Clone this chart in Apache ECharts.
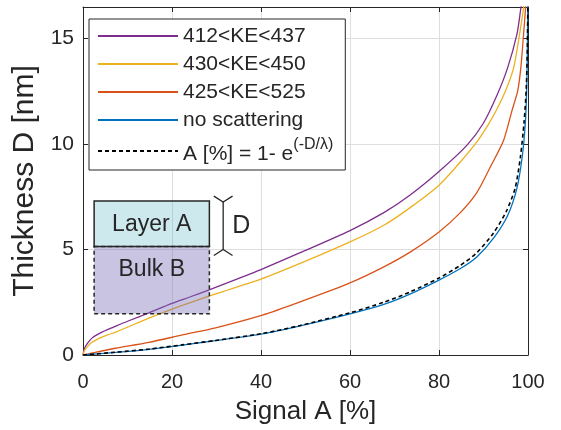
<!DOCTYPE html>
<html><head><meta charset="utf-8">
<script src="https://cdn.jsdelivr.net/npm/echarts@6/dist/echarts.min.js"></script>
<style>html,body{margin:0;padding:0;background:#fff}#c{width:561px;height:430px}</style>
</head><body><div id="c"></div>
<script>
const xTicks = [0, 20, 40, 60, 80, 100];
const yTicks = [0, 5, 10, 15];
const seriesNames = ['412<KE<437', '430<KE<450', '425<KE<525', 'no scattering', 'A [%] = 1- e(-D/λ)'];

const purpleSignal = [0, 0.3, 1, 2, 3.5, 5.5, 7.5, 10, 14.8, 20, 24, 28.5, 34, 40, 48.8, 60, 67.6, 73.6, 80, 86.3, 90, 93, 95.4, 97.5, 98.3, 98.6];
const purpleThickness = [0, 0.3, 0.55, 0.8, 1.0, 1.2, 1.38, 1.6, 2.0, 2.45, 2.75, 3.1, 3.55, 4.05, 4.85, 5.9, 6.75, 7.6, 8.7, 9.95, 11.0, 12.3, 13.6, 15.2, 16.3, 16.8];

const yellowSignal = [0, 0.3, 1, 2, 3.5, 5.5, 7.5, 10, 14.8, 22.3, 29.8, 40, 48.8, 60, 67.6, 73.6, 80, 84.8, 88.5, 91, 93, 95.1, 96.8, 98.1, 98.9, 99.2];
const yellowThickness = [0, 0.2, 0.4, 0.6, 0.78, 0.95, 1.1, 1.32, 1.75, 2.35, 2.9, 3.6, 4.34, 5.36, 6.15, 7.0, 8.05, 9.15, 10.1, 10.9, 11.65, 12.6, 13.64, 15.2, 16.3, 16.8];

const redSignal = [0, 3, 7.3, 14.8, 22.3, 29.8, 40.3, 48.8, 60, 67.6, 73.6, 80, 84.8, 88.5, 91.5, 94.5, 96.4, 97.7, 98.4, 99.0, 99.4, 99.55];
const redThickness = [0, 0.14, 0.32, 0.6, 0.95, 1.29, 1.89, 2.52, 3.42, 4.18, 4.89, 5.83, 6.75, 7.7, 8.9, 10.17, 11.59, 12.54, 13.64, 15.2, 16.3, 16.8];

const blueSignal = [0, 7.3, 14.8, 22.3, 29.8, 40.3, 48.8, 60, 67.6, 73.6, 80, 84.8, 88.5, 92.3, 95.4, 97.5, 98.7, 99.4, 99.7, 99.85, 99.95];
const blueThickness = [0, 0.12, 0.27, 0.47, 0.68, 1.0, 1.38, 1.95, 2.4, 2.9, 3.55, 4.1, 4.65, 5.55, 6.6, 7.9, 9.4, 11.0, 12.5, 14.2, 16.8];

const dashedSignal = [0, 7.3, 14.8, 22.3, 29.8, 40.3, 48.8, 60, 67.6, 73.6, 80, 84.8, 88.5, 92.3, 95.1, 97.1, 98.3, 99.1, 99.6, 99.85, 99.97];
const dashedThickness = [0, 0.13, 0.28, 0.48, 0.69, 1.02, 1.4, 2.0, 2.5, 3.0, 3.65, 4.25, 4.85, 5.8, 6.8, 7.9, 9.4, 11.0, 12.6, 14.5, 16.8];

const FONT = 'Liberation Sans, Arial, Helvetica, sans-serif';
const INK = '#262626';
const pairs = (xs, ys) => xs.map((x, i) => [x, ys[i]]);

const chart = echarts.init(document.getElementById('c'), null, {renderer: 'canvas'});

const axisCommon = {
  type: 'value',
  axisLine: {show: true, onZero: false, lineStyle: {color: INK, width: 1}},
  axisTick: {show: true, inside: true, length: 5, lineStyle: {color: INK, width: 1}},
};

function lineSeries(name, xs, ys, color, dashed) {
  return {
    name: name, type: 'line', data: pairs(xs, ys), symbol: 'none', smooth: 0.25,
    clip: true, z: dashed ? 4 : 3,
    lineStyle: {color: color, width: dashed ? 1.6 : 1.3, type: dashed ? [4, 3] : 'solid'},
    itemStyle: {color: color},
    emphasis: {disabled: true}
  };
}

chart.setOption({
  animation: false,
  backgroundColor: '#fff',
  grid: {left: 83, right: 33, top: 7, bottom: 75, containLabel: false},
  xAxis: [
    Object.assign({}, axisCommon, {
      min: 0, max: 100, interval: 20, position: 'bottom',
      name: 'Signal A [%]', nameLocation: 'middle', nameGap: 44,
      nameTextStyle: {fontFamily: FONT, fontSize: 26, color: INK},
      axisLabel: {margin: 17, fontFamily: FONT, fontSize: 20, color: INK,
        formatter: v => xTicks.includes(v) ? String(v) : ''},
      splitLine: {show: true, lineStyle: {color: '#dedede', width: 1}}
    }),
    Object.assign({}, axisCommon, {
      min: 0, max: 100, interval: 20, position: 'top',
      axisLabel: {show: false}, splitLine: {show: false}
    })
  ],
  yAxis: [
    Object.assign({}, axisCommon, {
      min: 0, max: 16.5, interval: 5, position: 'left',
      name: 'Thickness D [nm]', nameLocation: 'middle', nameGap: 35,
      nameTextStyle: {fontFamily: FONT, fontSize: 30, color: INK},
      axisLabel: {margin: 9, fontFamily: FONT, fontSize: 21, color: INK,
        formatter: v => yTicks.includes(v) ? String(v) : ''},
      splitLine: {show: true, lineStyle: {color: '#dedede', width: 1}}
    }),
    Object.assign({}, axisCommon, {
      min: 0, max: 16.5, interval: 5, position: 'right',
      axisLabel: {show: false}, splitLine: {show: false}
    })
  ],
  legend: {
    orient: 'vertical', left: 89, top: 19,
    padding: [6, 12, 5, 8], itemGap: 6, itemWidth: 80, itemHeight: 14,
    backgroundColor: '#fff', borderColor: INK, borderWidth: 1, borderRadius: 0,
    selectedMode: false,
    itemStyle: {opacity: 0},
    textStyle: {
      fontFamily: FONT, fontSize: 21, color: INK, lineHeight: 22,
      rich: {
        a: {fontFamily: FONT, fontSize: 21, color: INK, lineHeight: 28, verticalAlign: 'bottom'},
        s: {fontFamily: FONT, fontSize: 16, color: INK, verticalAlign: 'top'}
      }
    },
    formatter: function (name) {
      if (name === seriesNames[4]) return '{a|A [%] = 1- e}{s|(-D/λ)}';
      return name;
    },
    data: seriesNames
  },
  series: [
    lineSeries(seriesNames[0], purpleSignal, purpleThickness, '#7E2F8E', false),
    lineSeries(seriesNames[1], yellowSignal, yellowThickness, '#EDB120', false),
    lineSeries(seriesNames[2], redSignal, redThickness, '#D95319', false),
    lineSeries(seriesNames[3], blueSignal, blueThickness, '#0072BD', false),
    lineSeries(seriesNames[4], dashedSignal, dashedThickness, '#000000', true)
  ]
});

// Inset sketch (annotation), positioned in data coordinates
const P = (x, y) => chart.convertToPixel({gridIndex: 0}, [x, y]);
const tl = P(2.5, 7.3), mid = P(28.4, 5.15), br = P(28.4, 1.95);
const bTop = P(31.5, 7.25), bBot = P(31.5, 5.0), bArmL = P(29.4, 0), bArmR = P(33.6, 0);
const armDy = 6;
chart.setOption({
  graphic: [
    {type: 'rect', z: 10, shape: {x: tl[0], y: mid[1], width: mid[0] - tl[0], height: br[1] - mid[1]},
      style: {fill: 'rgba(117,107,180,0.4)', stroke: INK, lineWidth: 1.5, lineDash: [4, 3]}},
    {type: 'rect', z: 11, shape: {x: tl[0], y: tl[1], width: mid[0] - tl[0], height: mid[1] - tl[1]},
      style: {fill: 'rgba(88,182,198,0.3)', stroke: INK, lineWidth: 1.5}},
    {type: 'text', z: 12, x: (tl[0] + mid[0]) / 2, y: (tl[1] + mid[1]) / 2 + 1,
      style: {text: 'Layer A', font: '23px ' + FONT, fill: INK, align: 'center', verticalAlign: 'middle'}},
    {type: 'text', z: 12, x: (tl[0] + mid[0]) / 2, y: P(0, 4.05)[1],
      style: {text: 'Bulk B', font: '23px ' + FONT, fill: INK, align: 'center', verticalAlign: 'middle'}},
    {type: 'polyline', z: 12, shape: {points: [[bTop[0], bTop[1]], [bTop[0], bBot[1]]]},
      style: {stroke: INK, lineWidth: 1.3, fill: null}},
    {type: 'polyline', z: 12, shape: {points: [[bArmL[0], bTop[1] - armDy], [bTop[0], bTop[1]], [bArmR[0], bTop[1] - armDy]]},
      style: {stroke: INK, lineWidth: 1.3, fill: null}},
    {type: 'polyline', z: 12, shape: {points: [[bArmL[0], bBot[1] + armDy], [bTop[0], bBot[1]], [bArmR[0], bBot[1] + armDy]]},
      style: {stroke: INK, lineWidth: 1.3, fill: null}},
    {type: 'text', z: 12, x: bTop[0] + 9, y: (bTop[1] + bBot[1]) / 2,
      style: {text: 'D', font: '25px ' + FONT, fill: INK, align: 'left', verticalAlign: 'middle'}}
  ]
});
</script>
</body></html>
